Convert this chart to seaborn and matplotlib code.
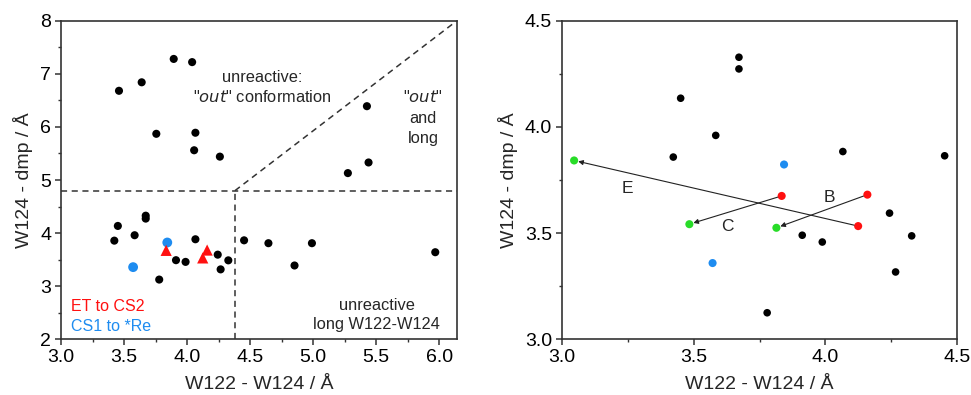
import numpy as np
import pandas as pd
import matplotlib.pyplot as plt
import seaborn as sns
from matplotlib.ticker import MultipleLocator

# dados (W122-W124, W124-dmp)
preto_x = [3.460, 3.640, 3.894, 4.040, 3.756, 4.066, 4.056, 4.260, 5.426, 5.275, 5.439,
           4.645, 4.852, 4.990, 5.968,
           3.672, 3.672, 3.451, 3.584, 3.423, 4.066, 4.452, 4.243, 3.912, 3.988, 4.327,
           4.266, 3.779]
preto_y = [6.68, 6.84, 7.28, 7.22, 5.87, 5.89, 5.56, 5.44, 6.39, 5.13, 5.33,
           3.81, 3.39, 3.81, 3.64,
           4.328, 4.273, 4.135, 3.960, 3.858, 3.884, 3.864, 3.594, 3.490, 3.458, 3.487,
           3.317, 3.125]
azul_x = [3.572, 3.843]
azul_y = [3.359, 3.823]
verm_x = [3.834, 4.159, 4.124]
verm_y = [3.675, 3.681, 3.533]
verde_x = [3.047, 3.484, 3.814]
verde_y = [3.842, 3.542, 3.525]
setas = [("E", 2, 0), ("C", 0, 1), ("B", 1, 2)]
setas_pos = {"E": (3.25, 3.71), "C": (3.628, 3.531), "B": (4.013, 3.669)}

limite_x = 4.38
limite_y = 4.8

df_preto = pd.DataFrame({'x': preto_x, 'y': preto_y})
df_azul = pd.DataFrame({'x': azul_x, 'y': azul_y})
df_verm = pd.DataFrame({'x': verm_x, 'y': verm_y})
df_verde = pd.DataFrame({'x': verde_x, 'y': verde_y})

sns.set_style("ticks")
plt.rcParams['font.family'] = ['Liberation Sans', 'DejaVu Sans']
plt.rcParams['axes.edgecolor'] = '#333333'
plt.rcParams['xtick.color'] = '#333333'
plt.rcParams['ytick.color'] = '#333333'
plt.rcParams['xtick.labelcolor'] = 'black'
plt.rcParams['ytick.labelcolor'] = 'black'

fig = plt.figure(figsize=(9.71, 3.95), dpi=100)
ax1 = fig.add_axes([0.0628, 0.141, 0.4078, 0.8066])
ax2 = fig.add_axes([0.5785, 0.141, 0.4074, 0.8066])

vermelho = '#ff1010'
azul = '#1e8cf0'
verde = '#28dc28'

# painel esquerdo
sns.scatterplot(data=df_preto, x='x', y='y', ax=ax1, color='black', s=34, edgecolor='none')
sns.scatterplot(data=df_azul, x='x', y='y', ax=ax1, color=azul, s=50, edgecolor='none')
sns.scatterplot(data=df_verm, x='x', y='y', ax=ax1, color=vermelho, s=65, marker='^', edgecolor='none')

ax1.set_xlim(3.0, 6.14)
ax1.set_ylim(2, 8)
tracejado = dict(color='#333333', lw=1.1, ls=(0, (4, 3)))
ax1.axhline(limite_y, **tracejado)
ax1.plot([limite_x, limite_x], [2, limite_y], **tracejado)
ax1.plot([limite_x, 6.14], [limite_y, 8], **tracejado)

ax1.xaxis.set_major_locator(MultipleLocator(0.5))
ax1.xaxis.set_minor_locator(MultipleLocator(0.25))
ax1.yaxis.set_major_locator(MultipleLocator(1))
ax1.yaxis.set_minor_locator(MultipleLocator(0.5))
ax1.xaxis.set_major_formatter(plt.FormatStrFormatter('%.1f'))

fs = 11.8
ax1.text(4.596, 6.93, 'unreactive:', ha='center', va='center', fontsize=fs)
ax1.text(4.596, 6.57, '"$\\it{out}$" conformation', ha='center', va='center', fontsize=fs)
ax1.text(5.87, 6.57, '"$\\it{out}$"', ha='center', va='center', fontsize=fs)
ax1.text(5.87, 6.16, 'and', ha='center', va='center', fontsize=fs)
ax1.text(5.87, 5.79, 'long', ha='center', va='center', fontsize=fs)
ax1.text(5.504, 2.646, 'unreactive', ha='center', va='center', fontsize=fs)
ax1.text(5.504, 2.27, 'long W122-W124', ha='center', va='center', fontsize=fs)
ax1.text(3.076, 2.61, 'ET to CS2', ha='left', va='center', fontsize=11.5, color=vermelho)
ax1.text(3.076, 2.24, 'CS1 to *Re', ha='left', va='center', fontsize=11.5, color=azul)

# painel direito
sns.scatterplot(data=df_preto, x='x', y='y', ax=ax2, color='black', s=30, edgecolor='none')
sns.scatterplot(data=df_azul, x='x', y='y', ax=ax2, color=azul, s=34, edgecolor='none')
sns.scatterplot(data=df_verm, x='x', y='y', ax=ax2, color=vermelho, s=34, edgecolor='none')
sns.scatterplot(data=df_verde, x='x', y='y', ax=ax2, color=verde, s=34, edgecolor='none')

for nome, i, j in setas:
    ax2.annotate('', xy=(verde_x[j], verde_y[j]), xytext=(verm_x[i], verm_y[i]),
                 arrowprops=dict(arrowstyle='-|>', lw=0.8, color='#222222',
                                 mutation_scale=7, shrinkA=3, shrinkB=3))
    ax2.text(*setas_pos[nome], nome, ha='center', va='center', fontsize=12.5)

ax2.set_xlim(3.0, 4.5)
ax2.set_ylim(3.0, 4.5)
ax2.xaxis.set_major_locator(MultipleLocator(0.5))
ax2.xaxis.set_minor_locator(MultipleLocator(0.25))
ax2.yaxis.set_major_locator(MultipleLocator(0.5))
ax2.yaxis.set_minor_locator(MultipleLocator(0.25))
ax2.xaxis.set_major_formatter(plt.FormatStrFormatter('%.1f'))
ax2.yaxis.set_major_formatter(plt.FormatStrFormatter('%.1f'))

for ax in (ax1, ax2):
    for s in ax.spines.values():
        s.set_visible(True)
        s.set_linewidth(1.2)
    ax.tick_params(which='major', direction='out', length=4, width=1.1, labelsize=14, pad=3)
    ax.tick_params(which='minor', direction='out', length=2, width=1.0)
    ax.set_xlabel('W122 - W124 / Å', fontsize=14, labelpad=7)
    ax.set_ylabel('W124 - dmp / Å', fontsize=14, labelpad=5)

fig.savefig('out.png', dpi=100)
